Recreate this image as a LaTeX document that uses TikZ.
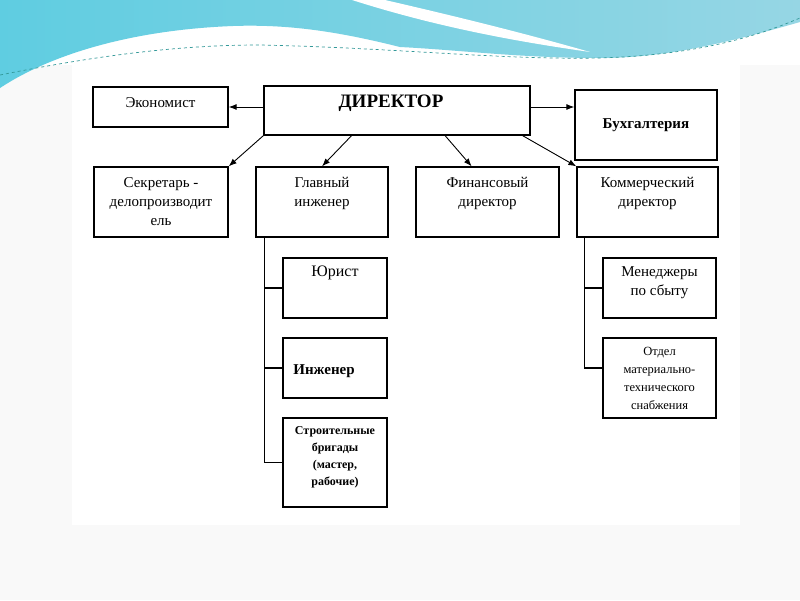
\documentclass[tikz,border=0pt]{standalone}
\usepackage{fontspec}
\setmainfont{Liberation Serif}
\usetikzlibrary{arrows.meta,calc}

\definecolor{wavecyan}{RGB}{95,205,225}
\definecolor{waveblue}{RGB}{120,188,210}
\definecolor{wavelight}{RGB}{150,214,228}

\tikzset{
  box/.style={draw, line width=1.3pt, fill=white},
  txt/.style={align=center, font=\fontsize{15}{19}\selectfont},
  small/.style={align=center, font=\fontsize{12}{17}\selectfont},
}

\begin{document}
\begin{tikzpicture}[x=1pt, y=-1pt, >={Latex[length=8pt,width=6pt]}]
  \useasboundingbox (0,0) rectangle (800,600);
  % slide background
  \fill[black!2.5] (0,0) rectangle (800,600);
  \fill[white] (0,0) rectangle (800,65);
  \fill[white] (72,65) rectangle (740,525);
  % wave on top
  \shade[left color=wavecyan, middle color=waveblue, right color=wavelight]
    (0,0) -- (800,0) -- (800,22) .. controls (720,45) and (660,58) .. (600,58)
    .. controls (520,58) and (460,50) .. (400,47)
    .. controls (340,32) and (290,24) .. (233,26)
    .. controls (130,30) and (50,55) .. (0,88) -- cycle;
  \fill[white] (352,0) -- (385,0) .. controls (450,15) and (520,32) .. (590,52)
    .. controls (520,42) and (440,28) .. (352,0) -- cycle;
  \draw[teal!80, dashed, line width=0.7pt] (0,75) .. controls (100,55) and (180,45) .. (260,45)
    .. controls (400,48) and (500,60) .. (600,58) .. controls (700,55) and (760,35) .. (800,18);

  % top row
  \node[box, minimum width=135pt, minimum height=40pt,
    label={[txt,yshift=4pt]center:Экономист}] (econ) at (160.5,107) {};
  \node[box, minimum width=266pt, minimum height=49pt,
    label={[font=\fontsize{19}{22}\selectfont\bfseries,xshift=-6pt,yshift=7.5pt]center:ДИРЕКТОР}] (dir) at (397,110.5) {};
  \node[box, minimum width=142pt, minimum height=70pt,
    label={[txt,font=\fontsize{15}{19}\selectfont\bfseries]center:Бухгалтерия}] (buh) at (646,125) {};

  % second row
  \node[box, minimum width=134pt, minimum height=70pt,
    label={[txt]center:{Секретарь -\\делопроизводит\\ель}}] (sekr) at (161,202) {};
  \node[box, minimum width=132pt, minimum height=70pt,
    label={[txt,yshift=9pt]center:{Главный\\инженер}}] (glav) at (322,202) {};
  \node[box, minimum width=143pt, minimum height=70pt,
    label={[txt,yshift=9pt]center:{Финансовый\\директор}}] (fin) at (487.5,202) {};
  \node[box, minimum width=141pt, minimum height=70pt,
    label={[txt,yshift=9pt]center:{Коммерческий\\директор}}] (komm) at (647.5,202) {};

  % under the chief engineer
  \node[box, minimum width=104pt, minimum height=60pt,
    label={[txt,font=\fontsize{16}{19}\selectfont,yshift=15pt]center:Юрист}] (yur) at (335,288) {};
  \node[box, minimum width=104pt, minimum height=60pt,
    label={[txt,font=\fontsize{15}{19}\selectfont\bfseries,xshift=-11pt,yshift=-3pt]center:Инженер}] (inzh) at (335,368) {};
  \node[box, minimum width=104pt, minimum height=89pt,
    label={[small,font=\fontsize{12}{17}\selectfont\bfseries,yshift=5pt]center:{Строительные\\бригады\\(мастер,\\рабочие)}}] (stroy) at (335,462.5) {};

  % under the commercial director
  \node[box, minimum width=113pt, minimum height=60pt,
    label={[txt,yshift=5pt]center:{Менеджеры\\по сбыту}}] (meng) at (659.5,288) {};
  \node[box, minimum width=113pt, minimum height=80pt,
    label={[small,font=\fontsize{12.5}{18}\selectfont]center:{Отдел\\материально-\\технического\\снабжения}}] (otdel) at (659.5,378) {};

  % arrows from the director
  \draw[->, line width=0.9pt] (dir.west |- econ) -- (econ.east);
  \draw[->, line width=0.9pt] (dir.east |- econ) -- (buh.west |- econ);
  \draw[->, line width=0.9pt] (dir.south west) -- (sekr.north east);
  \draw[->, line width=0.9pt] ($(dir.south west)!0.33!(dir.south east)$) -- (glav.north);
  \draw[->, line width=0.9pt] ($(dir.south west)!0.68!(dir.south east)$) -- ($(fin.north west)!0.39!(fin.north east)$);
  \draw[->, line width=0.9pt] ($(dir.south west)!0.97!(dir.south east)$) -- (komm.north west);

  % trees
  \coordinate (gtrunk) at ([xshift=9pt]glav.south west);
  \draw[line width=1.1pt] (gtrunk) |- (stroy.west);
  \foreach \n in {yur, inzh} {
    \draw[line width=1.1pt] (gtrunk |- \n.west) -- (\n.west);
  }
  \coordinate (ktrunk) at ([xshift=8pt]komm.south west);
  \draw[line width=1.1pt] (ktrunk) |- ([yshift=10pt]otdel.west);
  \draw[line width=1.1pt] (ktrunk |- meng.west) -- (meng.west);
\end{tikzpicture}
\end{document}
